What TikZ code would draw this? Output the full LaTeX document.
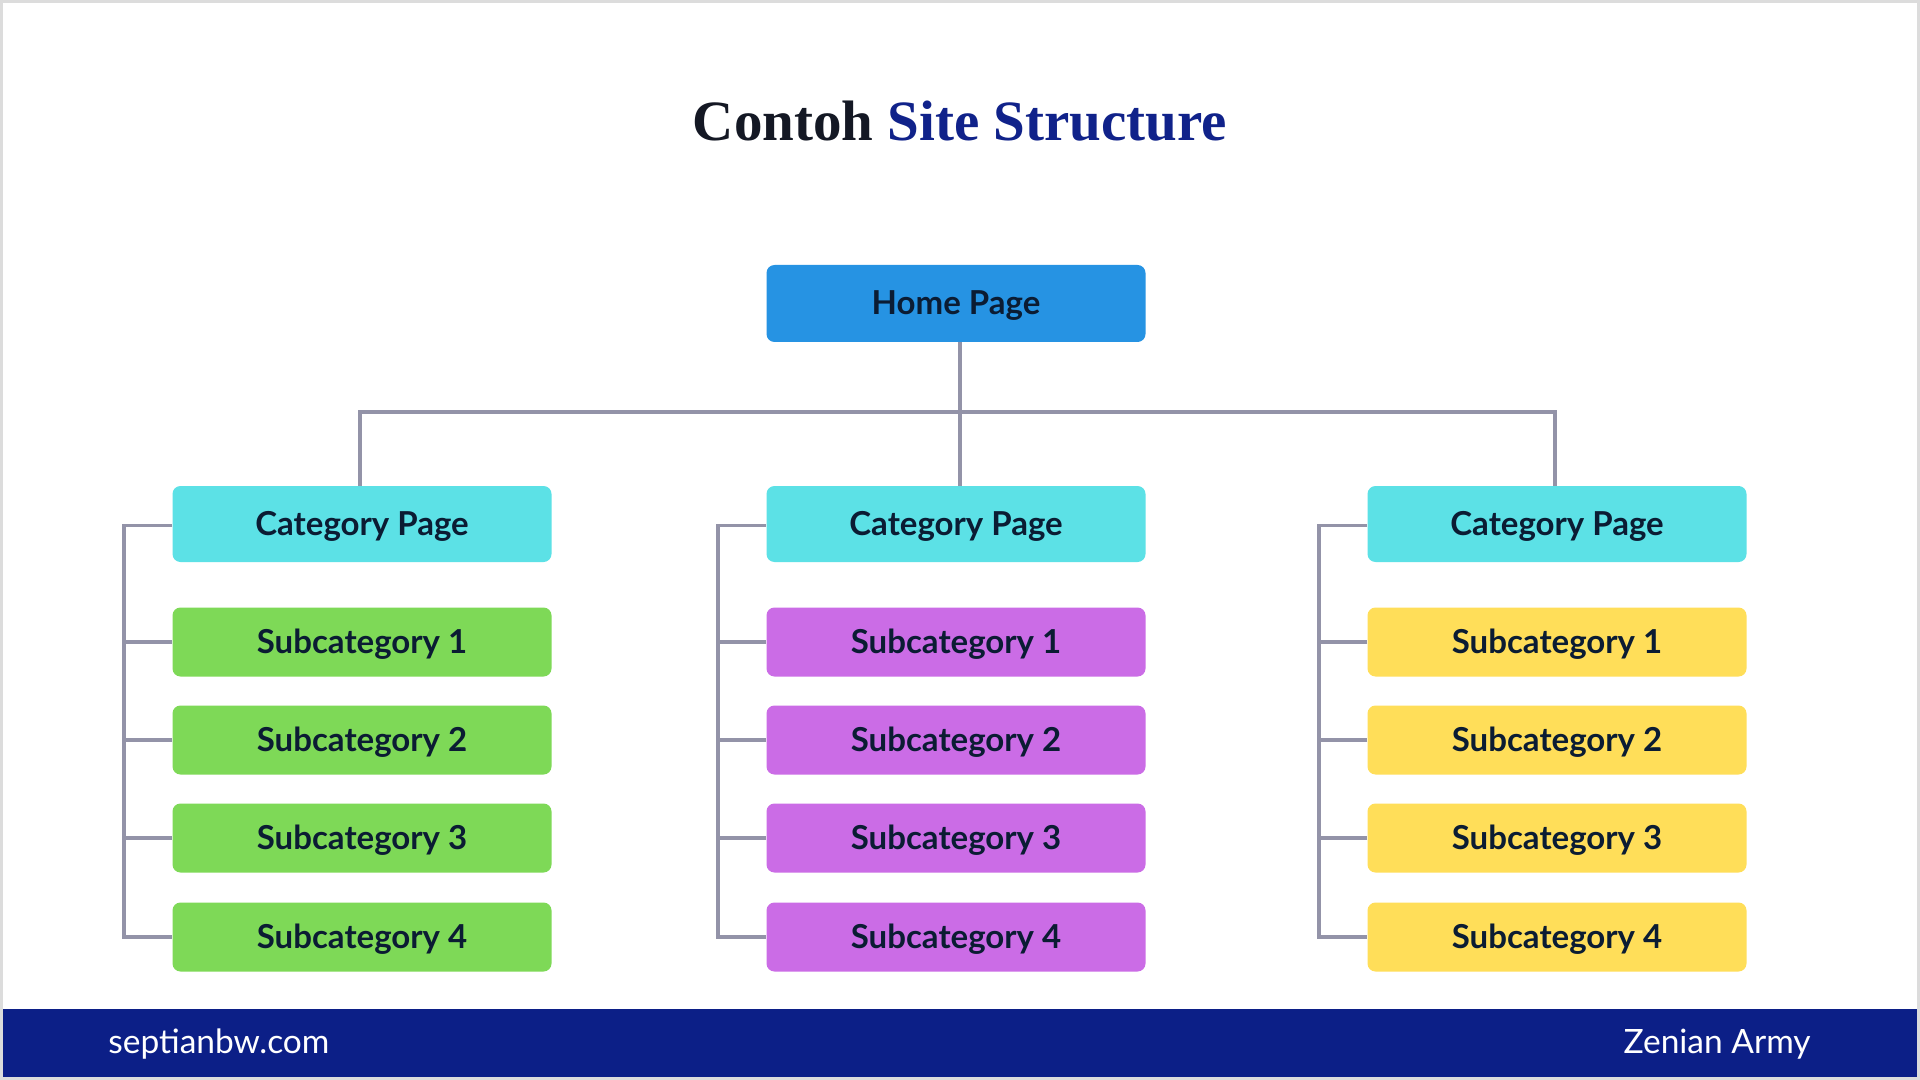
\documentclass[tikz,border=0pt]{standalone}
\usepackage{fontspec}
\usepackage{graphicx}
\newfontfamily\lato{Lato}
\newfontfamily\titlefont{Liberation Serif}
\definecolor{bordergray}{HTML}{DCDCDC}
\definecolor{homeblue}{HTML}{2693E3}
\definecolor{catcyan}{HTML}{5CE1E6}
\definecolor{subgreen}{HTML}{7ED957}
\definecolor{subpurple}{HTML}{CB6CE6}
\definecolor{subyellow}{HTML}{FFDE59}
\definecolor{linegray}{HTML}{9393A8}
\definecolor{footblue}{HTML}{0C1F87}
\definecolor{titledark}{HTML}{141824}
\definecolor{titleblue}{HTML}{10228A}
\definecolor{boxtext}{HTML}{0B1C33}
\tikzset{
  box/.style={rectangle, rounded corners=4pt, inner sep=0pt, draw=none,
    minimum width=189.5pt, text=boxtext,
    font=\lato\bfseries\fontsize{16.5pt}{19pt}\selectfont,
    text height=11.5pt, text depth=0pt},
  homebox/.style={box, fill=homeblue, minimum height=38.5pt},
  catbox/.style={box, fill=catcyan, minimum height=38pt},
  subbox/.style={box, minimum height=34.5pt},
  conn/.style={draw=linegray, line width=1.7pt},
  foottext/.style={text=white, inner sep=0pt, font=\lato\fontsize{16.75pt}{19pt}\selectfont}
}
\begin{document}
\begin{tikzpicture}[x=0.5pt,y=-0.5pt]
\useasboundingbox (0,0) rectangle (1920,1080);
\fill[bordergray] (0,0) rectangle (1920,1080);
\fill[white] (3,3) rectangle (1917,1077);
\fill[footblue] (3,1009) rectangle (1917,1077);
% title
\node[anchor=base, inner sep=0pt] (title) at (960,141)
  {\resizebox{267pt}{!}{\titlefont\bfseries\fontsize{28pt}{32pt}\selectfont\textcolor{titledark}{Contoh} \textcolor{titleblue}{Site Structure}}};
% footer
\node[foottext, anchor=base west] (fl) at (108,1053) {septianbw.com};
\node[foottext, anchor=base east] (fr) at (1811,1053) {Zenian Army};
% nodes
\node[homebox] (h) at (956,303.5) {Home Page};
\node[catbox] (c1) at (362,524) {Category Page};
\node[catbox] (c2) at (956,524) {Category Page};
\node[catbox] (c3) at (1557,524) {Category Page};
\foreach \k/\y in {1/642,2/740,3/838,4/937}{
  \node[subbox, fill=subgreen] (s1\k) at (362,\y) {Subcategory \k};
  \node[subbox, fill=subpurple] (s2\k) at (956,\y) {Subcategory \k};
  \node[subbox, fill=subyellow] (s3\k) at (1557,\y) {Subcategory \k};
}
% connectors
\coordinate (bus) at (960,412);
\coordinate (d1) at (360,412);
\coordinate (d3) at (1555,412);
\draw[conn] (bus |- h.south) -- (bus);
\draw[conn] (d1 |- c1.north) -- (d1) -- (d3) -- (d3 |- c3.north);
\draw[conn] (bus) -- (bus |- c2.north);
\foreach \c in {1,2,3}{
  \draw[conn, line join=miter] ([yshift=-0.8pt]c\c.west) -- ++(-48,0) coordinate (t\c) |- (s\c4.west);
  \foreach \k in {1,2,3}{
    \draw[conn] (s\c\k.west) -- (s\c\k.west -| t\c);
  }
}
\end{tikzpicture}
\end{document}
